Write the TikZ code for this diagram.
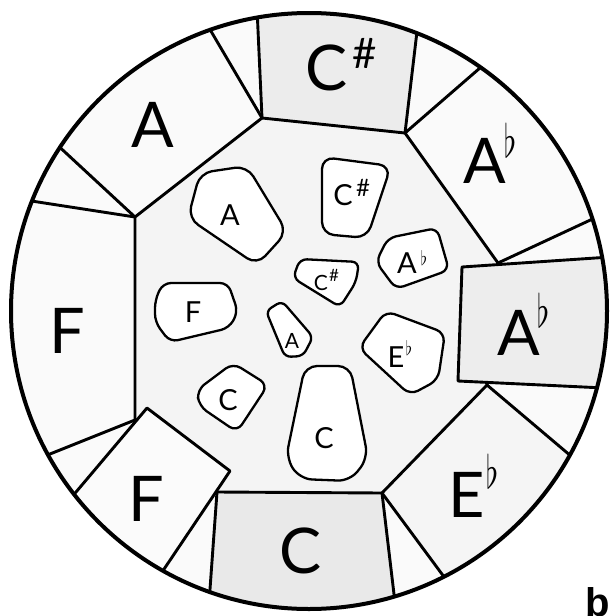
\documentclass[tikz,border=0pt]{standalone}
\usepackage{fontspec}
\usetikzlibrary{calc}
\setmainfont{Lato}
\newfontfamily\tagfont{Liberation Sans}
\begin{document}
\begin{tikzpicture}[x=1pt,y=-1pt,
  ring/.style={line width=2.9pt, line join=round, line cap=round},
  pad/.style={line width=2.3pt, fill=white, rounded corners=9pt, line join=round},
  big/.style={font=\fontsize{63}{63}\selectfont, inner sep=0pt, anchor=base},
  sharpbig/.style={font=\fontsize{42}{42}\selectfont, inner sep=0pt, anchor=base},
  mid/.style={font=\fontsize{29}{29}\selectfont, inner sep=0pt, anchor=base},
  small/.style={font=\fontsize{21}{21}\selectfont, inner sep=0pt, anchor=base},
  acc/.style={inner sep=0pt, anchor=base},
]
\useasboundingbox (0,0) rectangle (610,616);
\fill[white] (0,0) rectangle (610,616);
\coordinate (O) at (309,311);
\coordinate (P1) at (262,118);
\coordinate (P2) at (405,133);
\coordinate (P3) at (498,263);
\coordinate (P4) at (487,385);
\coordinate (P5) at (382,493);
\coordinate (P6) at (217,492);
\coordinate (P7) at (135,420);
\coordinate (P8) at (135,217);
% outer ends of the dividing lines
\coordinate (E1a) at (257,8);
\coordinate (E1b) at (205,21);
\coordinate (E2a) at (418,23);
\coordinate (E2b) at (488,61);
\coordinate (E3) at (599,216);
\coordinate (E4) at (578,462);
\coordinate (E5a) at (470,612);
\coordinate (E5b) at (396,611);
\coordinate (E6) at (209,603);
\coordinate (E7) at (35,460);
\coordinate (E8a) at (53,141);
\coordinate (E8b) at (25,200);

\fill[gray!4] (O) circle[radius=298];
\begin{scope}
  \clip (O) circle[radius=297];
  % shaded regions
  \fill[gray!15] (E1a) -- (P1) -- (P2) -- (E2a) -- (420,0) -- (255,0) -- cycle;
  \fill[gray!17] (P6) -- (P5) -- (E5b) -- (397,625) -- (208,625) -- (E6) -- cycle;
  \fill[gray!8] (P4) -- (P5) -- (E5a) -- (603,484) -- cycle;
  \fill[gray!9] (P1) -- (P2) -- (P3) -- (P4) -- (P5) -- (P6) -- (P7) -- (P8) -- cycle;
  % inner octagon and dividing lines
  \draw[ring] (P7) -- (P8) -- (P1) -- (P2) -- (P3) -- (P4) -- (P5) -- (P6) -- (P7);
  \draw[ring] (P1) -- (E1a);
  \draw[ring] (P1) -- (E1b);
  \draw[ring] (P2) -- (E2a);
  \draw[ring] (P2) -- (E2b);
  \draw[ring] (P3) -- (E3);
  \draw[ring] (P4) -- (E4);
  \draw[ring] (P5) -- ($(P5)!0.82!(E5a)$);
  \draw[ring] (P5) -- (E5b);
  \draw[ring] (P6) -- (E6);
  \draw[ring] (P7) -- (E7);
  \draw[ring] (P8) -- (E8a);
  \draw[ring] (P8) -- (E8b);
  % A-flat square on the right
  \filldraw[ring, fill=gray!14] (625,256) -- (462,267) -- (458,381) -- (625,389);
  % F square lower left
  \filldraw[ring, fill=gray!3] (60,511) -- (147,408) -- (230,471) -- (150,590);
\end{scope}
\draw[line width=4pt] (O) circle[radius=298];

% inner pads
\draw[pad, rounded corners=12pt] (188,218) -- (200,173) -- (247,166) -- (287,232) -- (257,265) -- cycle;
\draw[pad, rounded corners=12pt] (322,157) -- (391,166) -- (367,238) -- (322,234) -- cycle;
\draw[pad, rounded corners=8pt] (376,262) -- (388,238) -- (437,228) -- (449,270) -- (396,289) -- cycle;
\draw[pad, rounded corners=7pt] (293,278) -- (300,259) -- (359,262) -- (356,282) -- (340,307) -- cycle;
\draw[pad, rounded corners=8pt] (155,300) -- (163,283) -- (228,283) -- (238,312) -- (229,328) -- (170,342) -- (155,322) -- cycle;
\draw[pad, rounded corners=6pt] (266,311) -- (282,301) -- (313,337) -- (303,356) -- (285,357) -- cycle;
\draw[pad, rounded corners=9pt] (359,348) -- (386,311) -- (445,333) -- (438,380) -- (410,395) -- cycle;
\draw[pad, rounded corners=9pt] (197,390) -- (233,363) -- (268,385) -- (237,432) -- (199,406) -- cycle;
\draw[pad, rounded corners=12pt] (305,366) -- (350,366) -- (368,458) -- (350,481) -- (300,479) -- (286,458) -- cycle;

% outer labels
\node[big] (oCs) at (327,90) {C};
\node[sharpbig] (oCsS) at (365,68) {\#};
\node[big] (oA) at (153,147) {A};
\node[big] (oAb1) at (485,183) {A};
\node[acc] (oAb1f) at (510,157) {\scalebox{3.2}[4.6]{$\flat$}};
\node[big] (oF1) at (67,353) {F};
\node[big] (oAb2) at (519,355) {A};
\node[acc] (oAb2f) at (543,327) {\scalebox{3.2}[4.6]{$\flat$}};
\node[big] (oF2) at (146,521) {F};
\node[big] (oC) at (301,573) {C};
\node[big] (oEb) at (467,517) {E};
\node[acc] (oEbf) at (492,488) {\scalebox{3.2}[4.6]{$\flat$}};

% inner labels
\node[mid] (iA) at (230,225) {A};
\node[mid] (iCs) at (343,205) {C};
\node[font=\fontsize{24}{24}\selectfont, inner sep=0pt, anchor=base] (iCsS) at (363,196) {\#};
\node[mid] (iAb) at (407,273) {A};
\node[acc] (iAbf) at (424,265) {\scalebox{1.6}[2.0]{$\flat$}};
\node[small] (sCs) at (321,290) {C};
\node[font=\fontsize{17}{17}\selectfont, inner sep=0pt, anchor=base] (sCsS) at (334,281) {\#};
\node[mid] (iF) at (193,322) {F};
\node[small] (sA) at (292,348) {A};
\node[mid] (iEb) at (396,367) {E};
\node[acc] (iEbf) at (409,355) {\scalebox{1.6}[2.0]{$\flat$}};
\node[mid] (iC1) at (228,410) {C};
\node[mid] (iC2) at (324,448) {C};

\node[font=\tagfont\bfseries\fontsize{40}{40}\selectfont, inner sep=0pt, anchor=base west] (tag) at (585,616) {b};
\end{tikzpicture}
\end{document}
